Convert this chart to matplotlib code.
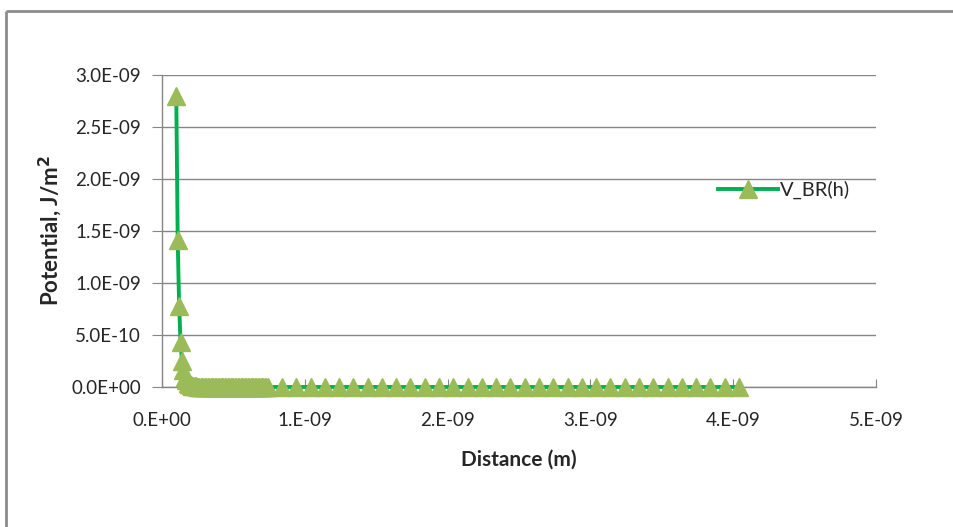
import matplotlib.pyplot as plt
from matplotlib.lines import Line2D

# -----------------------------------
# DATA (distance in nm, potential in nJ/m2)
# -----------------------------------

dist_dense_nm = [0.10, 0.11, 0.12, 0.13, 0.14, 0.15, 0.16, 0.17, 0.18, 0.19,
                 0.20, 0.21, 0.22, 0.23, 0.24, 0.25, 0.26, 0.27, 0.28, 0.29,
                 0.30, 0.31, 0.32, 0.33, 0.34, 0.35, 0.36, 0.37, 0.38, 0.39,
                 0.40, 0.41, 0.42, 0.43, 0.44, 0.45, 0.46, 0.47, 0.48, 0.49,
                 0.50, 0.51, 0.52, 0.53, 0.54, 0.55, 0.56, 0.57, 0.58, 0.59,
                 0.60, 0.61, 0.62, 0.63, 0.64, 0.65, 0.66, 0.67, 0.68, 0.69,
                 0.70, 0.71, 0.72, 0.73, 0.74]
pot_dense = [2.80, 1.41, 0.78, 0.43, 0.25, 0.16, 0.10, 0.065, 0.042, 0.028,
             0.019, 0.013, 0.009, 0.007, 0.005, 0.004, 0.003, 0.002, 0.0016, 0.0012,
             0.001, 0.0008, 0.0006, 0.0005, 0.0004, 0.0003, 0.0003, 0.0002, 0.0002, 0.0001,
             0.0001, 0.0001, 0.0001, 0.0001, 0.0, 0.0, 0.0, 0.0, 0.0, 0.0,
             0.0, 0.0, 0.0, 0.0, 0.0, 0.0, 0.0, 0.0, 0.0, 0.0,
             0.0, 0.0, 0.0, 0.0, 0.0, 0.0, 0.0, 0.0, 0.0, 0.0,
             0.0, 0.0, 0.0, 0.0, 0.0]

dist_sparse_nm = [0.84, 0.94, 1.04, 1.14, 1.24, 1.34, 1.44, 1.54, 1.64, 1.74,
                  1.84, 1.94, 2.04, 2.14, 2.24, 2.34, 2.44, 2.54, 2.64, 2.74,
                  2.84, 2.94, 3.04, 3.14, 3.24, 3.34, 3.44, 3.54, 3.64, 3.74,
                  3.84, 3.94, 4.04]
pot_sparse = [0.0] * len(dist_sparse_nm)

x_ticks = [0, 1e-9, 2e-9, 3e-9, 4e-9, 5e-9]
x_labels = ["0.E+00", "1.E-09", "2.E-09", "3.E-09", "4.E-09", "5.E-09"]
y_ticks = [0, 0.5e-9, 1.0e-9, 1.5e-9, 2.0e-9, 2.5e-9, 3.0e-9]
y_labels = ["0.0E+00", "5.0E-10", "1.0E-09", "1.5E-09", "2.0E-09", "2.5E-09", "3.0E-09"]

x = [d * 1e-9 for d in dist_dense_nm + dist_sparse_nm]
y = [p * 1e-9 for p in pot_dense + pot_sparse]

# -----------------------------------
# CHART
# -----------------------------------

plt.rcParams['font.family'] = ['Lato', 'DejaVu Sans']

fig = plt.figure(figsize=(9.54, 5.27), dpi=100)
fig.patch.set_facecolor('white')
fig.patch.set_edgecolor('none')
fig.patch.set_linewidth(0)
ax = fig.add_axes([162 / 954, 1 - 387 / 527, 714 / 954, 312 / 527])

grey = '#868686'
text_col = '#262626'

ax.plot(x, y, color='#00b050', linewidth=2.8, marker='^', markersize=13,
        markerfacecolor='#9bbb59', markeredgecolor='#9bbb59', label='V_BR(h)',
        clip_on=False, zorder=3)

ax.set_xlim(0, 5e-9)
ax.set_ylim(0, 3e-9)
ax.set_xticks(x_ticks)
ax.set_xticklabels(x_labels)
ax.set_yticks(y_ticks)
ax.set_yticklabels(y_labels)

ax.grid(axis='y', color=grey, linewidth=1)
ax.set_axisbelow(True)
for side in ['top', 'right']:
    ax.spines[side].set_visible(False)
for side in ['left', 'bottom']:
    ax.spines[side].set_color(grey)
    ax.spines[side].set_linewidth(1)

ax.tick_params(axis='x', direction='in', length=6, color=grey, labelsize=13.5,
               pad=18, labelcolor=text_col)
ax.tick_params(axis='y', direction='out', length=7, color=grey, labelsize=13.5,
               pad=8, labelcolor=text_col)

ax.set_xlabel("Distance (m)", fontsize=15, fontweight='bold', color=text_col)
ax.xaxis.set_label_coords(0.5, (387 - 460) / 312)
ax.xaxis.label.set_verticalalignment('center')

ax.set_ylabel("Potential, J/m$^\\mathbf{2}$", fontsize=16, fontweight='bold', color=text_col)
ax.yaxis.set_label_coords((50 - 162) / 714, 0.5)
ax.yaxis.label.set_verticalalignment('center')

ax.legend(loc='center left', bbox_to_anchor=((718 - 162) / 714, (387 - 190) / 312),
          frameon=False, fontsize=14.5, handlelength=3.0, handletextpad=0.1,
          borderpad=0, borderaxespad=0, labelcolor=text_col)

# chart area border (only top and left are inside the picture)
border = '#8c8c8c'
fig.add_artist(Line2D([6 / 954, 1.01], [1 - 11 / 527, 1 - 11 / 527],
                      transform=fig.transFigure, color=border, linewidth=2,
                      solid_capstyle='butt'))
fig.add_artist(Line2D([6 / 954, 6 / 954], [-0.01, 1 - 11 / 527],
                      transform=fig.transFigure, color=border, linewidth=2,
                      solid_capstyle='butt'))

plt.savefig("out.png", dpi=100)
plt.close()
